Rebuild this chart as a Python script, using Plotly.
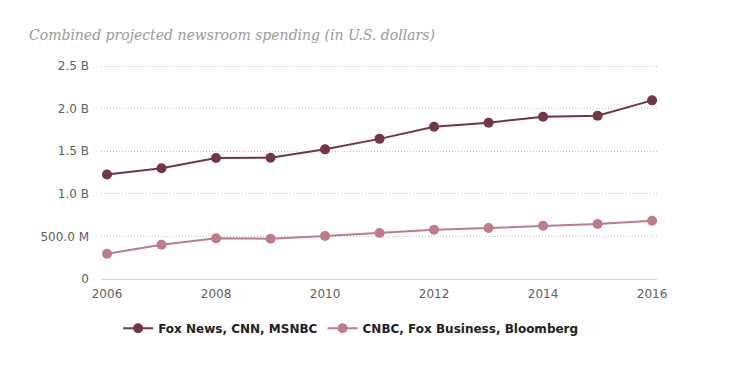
import plotly.graph_objects as go

years = [2006, 2007, 2008, 2009, 2010, 2011, 2012, 2013, 2014, 2015, 2016]
cable_news = [1.226e9, 1.30e9, 1.42e9, 1.424e9, 1.522e9, 1.645e9, 1.788e9, 1.835e9, 1.905e9, 1.917e9, 2.097e9]
business_news = [0.297e9, 0.403e9, 0.477e9, 0.473e9, 0.505e9, 0.54e9, 0.579e9, 0.599e9, 0.626e9, 0.646e9, 0.684e9]
series_names = ["Fox News, CNN, MSNBC", "CNBC, Fox Business, Bloomberg"]
y_tick_vals = [0, 0.5e9, 1.0e9, 1.5e9, 2.0e9, 2.5e9]
y_tick_text = ["0", "500.0 M", "1.0 B", "1.5 B", "2.0 B", "2.5 B"]
x_tick_vals = [2006, 2008, 2010, 2012, 2014, 2016]

dark = "#723742"
light = "#bf7b87"

# page body has an 8px margin; compensate
W, H = 723, 368

fig = go.Figure()
fig.add_trace(go.Scatter(x=years, y=cable_news, name="<b>" + series_names[0] + "</b>", mode="lines+markers",
                         line=dict(color=dark, width=2), marker=dict(color=dark, size=10)))
fig.add_trace(go.Scatter(x=years, y=business_news, name="<b>" + series_names[1] + "</b>", mode="lines+markers",
                         line=dict(color=light, width=2), marker=dict(color=light, size=10)))

fig.update_layout(
    width=W, height=H,
    margin=dict(l=93, r=74, t=57, b=97, pad=0),
    paper_bgcolor="white", plot_bgcolor="white",
    title=dict(text="<i>Combined projected newsroom spending (in U.S. dollars)</i>",
               x=21/W, xanchor="left", y=1-27/H, yanchor="middle",
               font=dict(family="DejaVu Serif", size=14, color="#9a9a9a")),
    xaxis=dict(range=[2005.89, 2016.09], tickvals=x_tick_vals, showgrid=False,
               showline=True, linecolor="#ccd6eb", linewidth=1, ticks="",
               ticklabelstandoff=4,
               tickfont=dict(family="DejaVu Sans", size=12, color="#606060"), zeroline=False),
    yaxis=dict(range=[0, 2.512e9], tickvals=y_tick_vals, ticktext=y_tick_text,
               showgrid=True, gridcolor="#c4c4c4", griddash="1px,2px", gridwidth=1,
               zeroline=False, showline=False, ticks="", ticklabelstandoff=11,
               tickfont=dict(family="DejaVu Sans", size=12, color="#606060")),
    legend=dict(orientation="h", x=0.449, xanchor="center", y=-0.23, yanchor="middle",
                font=dict(family="DejaVu Sans", size=12, color="#222222"),
                itemwidth=30),
    showlegend=True,
)

fig.write_html("out.html")
